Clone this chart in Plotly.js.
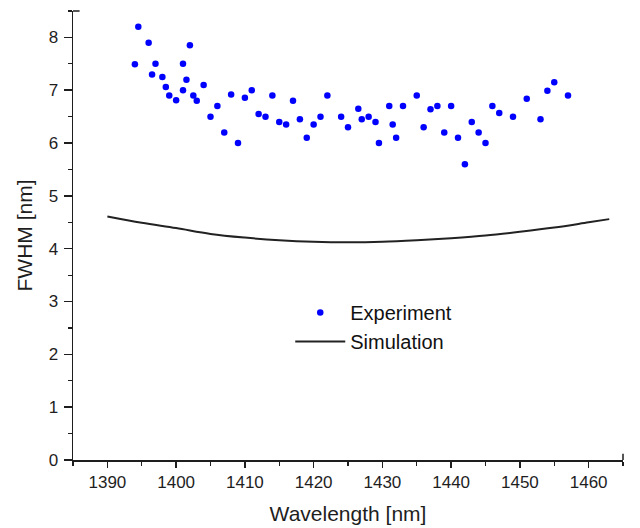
<!DOCTYPE html>
<html>
<head>
<meta charset="utf-8">
<script src="https://cdn.plot.ly/plotly-3.0.1.min.js"></script>
<style>html,body{margin:0;padding:0;background:#fff;}#chart{width:640px;height:528px;}</style>
</head>
<body>
<div id="chart"></div>
<script>
// Experiment data (wavelength nm, FWHM nm)
const expWavelength = [1394, 1394.5, 1396, 1396.5, 1397, 1398, 1398.5, 1399, 1400, 1401, 1401, 1401.5, 1402, 1402.5, 1403, 1404, 1405, 1406, 1407, 1408, 1409, 1410, 1411, 1412, 1413, 1414, 1415, 1416, 1417, 1418, 1419, 1420, 1421, 1422, 1424, 1425, 1426.5, 1427, 1428, 1429, 1429.5, 1431, 1431.5, 1432, 1433, 1435, 1436, 1437, 1438, 1439, 1440, 1441, 1442, 1443, 1444, 1445, 1446, 1447, 1449, 1451, 1453, 1454, 1455, 1457];
const expFWHM = [7.49, 8.20, 7.90, 7.30, 7.50, 7.25, 7.06, 6.90, 6.81, 7.00, 7.50, 7.20, 7.85, 6.90, 6.80, 7.10, 6.50, 6.70, 6.20, 6.92, 6.00, 6.86, 7.00, 6.55, 6.50, 6.90, 6.40, 6.35, 6.80, 6.45, 6.10, 6.35, 6.50, 6.90, 6.50, 6.30, 6.65, 6.45, 6.50, 6.40, 6.00, 6.70, 6.35, 6.10, 6.70, 6.90, 6.30, 6.64, 6.70, 6.20, 6.70, 6.10, 5.60, 6.40, 6.20, 6.00, 6.70, 6.57, 6.50, 6.84, 6.45, 6.99, 7.15, 6.90];

// Simulation curve
const simWavelength = [1390, 1395, 1400, 1405, 1410, 1415, 1420, 1425, 1430, 1435, 1440, 1445, 1450, 1455, 1460, 1463];
const simFWHM = [4.61, 4.49, 4.39, 4.28, 4.21, 4.16, 4.13, 4.12, 4.13, 4.16, 4.20, 4.25, 4.32, 4.40, 4.50, 4.56];

const seriesNames = ["Experiment", "Simulation"];
const xTitle = "Wavelength [nm]";
const yTitle = "FWHM [nm]";

const FONT = "Arial, 'Liberation Sans', sans-serif";
const INK = "#1e1e1e";

const traces = [
  {
    x: expWavelength, y: expFWHM, name: seriesNames[0],
    type: "scatter", mode: "markers",
    marker: {color: "#0000ff", size: 6.5}
  },
  {
    x: simWavelength, y: simFWHM, name: seriesNames[1],
    type: "scatter", mode: "lines",
    line: {color: "#222222", width: 2, shape: "spline"}
  }
];

const layout = {
  width: 640, height: 528,
  margin: {l: 73, r: 17, t: 11, b: 68},
  paper_bgcolor: "#ffffff", plot_bgcolor: "#ffffff",
  font: {family: FONT, color: INK, size: 17},
  showlegend: true,
  legend: {
    x: 0.395, y: 0.372, xanchor: "left", yanchor: "top",
    bgcolor: "rgba(0,0,0,0)", font: {size: 20, color: "#111111", family: FONT},
    tracegroupgap: 0, itemwidth: 50
  },
  xaxis: {
    range: [1385, 1465], tick0: 1390, dtick: 10,
    showgrid: false, zeroline: false,
    showline: true, linecolor: INK, linewidth: 1.5,
    ticks: "outside", ticklen: 6, tickwidth: 1.5, tickcolor: INK,
    minor: {dtick: 5, ticks: "outside", ticklen: 4, tickwidth: 1.2, tickcolor: INK, showgrid: false},
    tickfont: {size: 17, family: FONT, color: INK},
    title: {text: xTitle, font: {size: 21, family: FONT, color: INK}, standoff: 15},
    automargin: false
  },
  yaxis: {
    range: [0, 8.5], tick0: 0, dtick: 1,
    showgrid: false, zeroline: false,
    showline: true, linecolor: INK, linewidth: 1.5,
    ticks: "outside", ticklen: 8, tickwidth: 1.5, tickcolor: INK,
    minor: {dtick: 0.5, ticks: "outside", ticklen: 4, tickwidth: 1.2, tickcolor: INK, showgrid: false},
    tickfont: {size: 17, family: FONT, color: INK},
    ticklabelstandoff: 2,
    title: {text: yTitle, font: {size: 21, family: FONT, color: INK}, standoff: 10},
    automargin: false
  },
  shapes: [
    {type: "line", xref: "x domain", yref: "y domain", x0: 0, x1: 0.012, y0: 1, y1: 1, line: {color: INK, width: 1.5}},
    {type: "line", xref: "x domain", yref: "y domain", x0: 1, x1: 1, y0: 0, y1: 0.014, line: {color: INK, width: 1.5}}
  ]
};

Plotly.newPlot("chart", traces, layout, {displayModeBar: false, staticPlot: true});
</script>
</body>
</html>
